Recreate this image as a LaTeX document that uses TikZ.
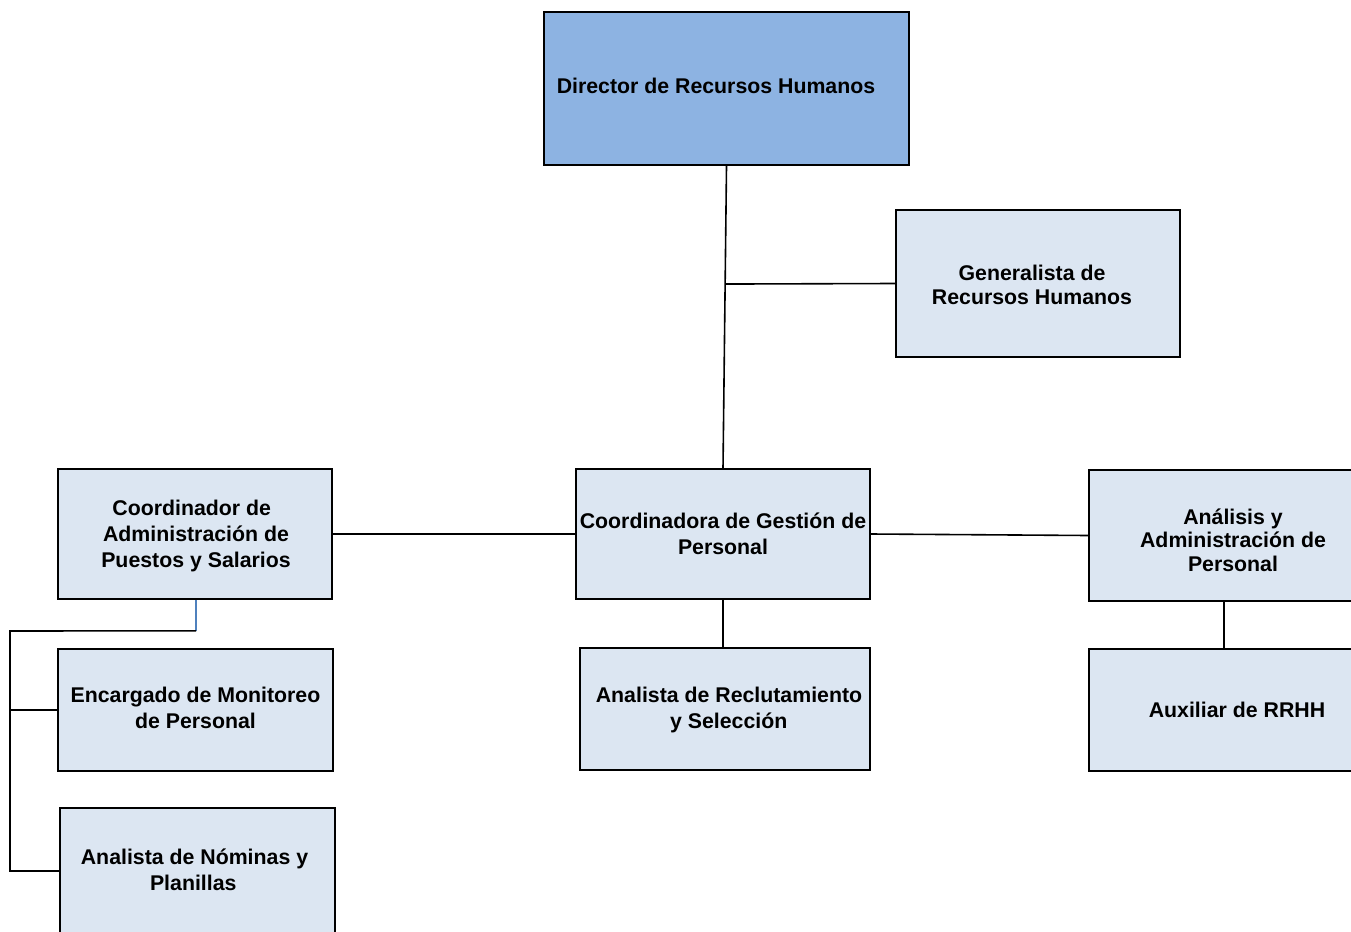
\documentclass[tikz,border=0pt]{standalone}
\usepackage{fontspec}
\setmainfont{Liberation Sans}
\usetikzlibrary{calc}
\definecolor{headfill}{HTML}{8DB3E2}
\definecolor{unitfill}{HTML}{DCE6F2}
\definecolor{linkblue}{HTML}{4F81BD}
% one line of box text, nudged sideways by #1
\newcommand{\boxline}[2]{\hspace{#1}#2\hspace{-#1}}
\begin{document}
\begin{tikzpicture}[x=1pt,y=-1pt,
  box/.style={draw=black,line width=1.6pt,fill=unitfill,inner sep=0pt},
  boxtext/.style={inner sep=0pt,align=center,font=\fontsize{21.3}{25.6}\selectfont\bfseries},
  link/.style={draw=black,line width=1.6pt}]
\useasboundingbox (0,0) rectangle (1351,931);
\clip (0,0) rectangle (1351,931);

% boxes: centre, width, height
\node[box,fill=headfill,minimum width=365pt,minimum height=153pt] (dir) at (726.5,88.5) {};
\node[box,minimum width=284pt,minimum height=147pt] (gen) at (1038,283.5) {};
\node[box,minimum width=274pt,minimum height=130pt] (cadm) at (195,534) {};
\node[box,minimum width=294pt,minimum height=130pt] (coord) at (723,534) {};
\node[box,minimum width=288pt,minimum height=131pt] (anal) at (1233,535.5) {};
\node[box,minimum width=290pt,minimum height=122pt] (recl) at (725,709) {};
\node[box,minimum width=296pt,minimum height=122pt] (aux) at (1237,710) {};
\node[box,minimum width=275pt,minimum height=122pt] (enc) at (195.5,710) {};
\node[box,minimum width=275pt,minimum height=126pt] (nom) at (197.5,871) {};

% titles
\node[boxtext] (dir-t) at ($(dir)+(-10.5,-3)$) {Director de Recursos Humanos};
\node[boxtext] (gen-t) at ($(gen)+(-6,1.5)$) {Generalista de\\[-1.3pt]Recursos Humanos};
\node[boxtext] (cadm-t) at ($(cadm)+(1,2)$)
  {\boxline{-8.5pt}{Coordinador de}\\Administración de\\Puestos y Salarios};
\node[boxtext] (coord-t) at ($(coord)+(0,-0.5)$) {Coordinadora de Gestión de\\Personal};
\node[boxtext] (anal-t) at ($(anal)+(0,4.5)$)
  {Análisis y\\[-2.3pt]Administración de\\[-2.3pt]Personal};
\node[boxtext] (recl-t) at ($(recl)+(4,1)$)
  {Analista de Reclutamiento\\\boxline{-0.5pt}{y Selección}};
\node[boxtext] (aux-t) at (aux) {Auxiliar de RRHH};
\node[boxtext] (enc-t) at ($(enc)+(0,-2)$) {Encargado de Monitoreo\\de Personal};
\node[boxtext] (nom-t) at ($(nom)+(-3,-1.5)$)
  {Analista de Nóminas y\\\boxline{-2.5pt}{Planillas}};

% reporting lines
\draw[link] (dir.south) -- (coord.north);
\coordinate (genjoin) at ($(dir.south)!0.391!(coord.north)$);
\draw[link] (genjoin) -- (gen.west);
\draw[link] (cadm.east) -- (coord.west);
\draw[link] (coord.east) -- (anal.west);
\draw[link] (coord.south) -- (coord.south |- recl.north);
\draw[link] ([xshift=-9pt]anal.south) -- ([xshift=-9pt]anal.south |- aux.north);

% left branch
\coordinate (drop) at ($(cadm.south)+(1,31)$);
\coordinate (spine) at (10,631);
\draw[linkblue,line width=1.2pt] ([xshift=1pt]cadm.south) -- (drop);
\draw[link] (drop) -- (spine) -- (spine |- nom.west) -- (nom.west);
\draw[link] (spine |- enc.west) -- (enc.west);
\end{tikzpicture}
\end{document}
